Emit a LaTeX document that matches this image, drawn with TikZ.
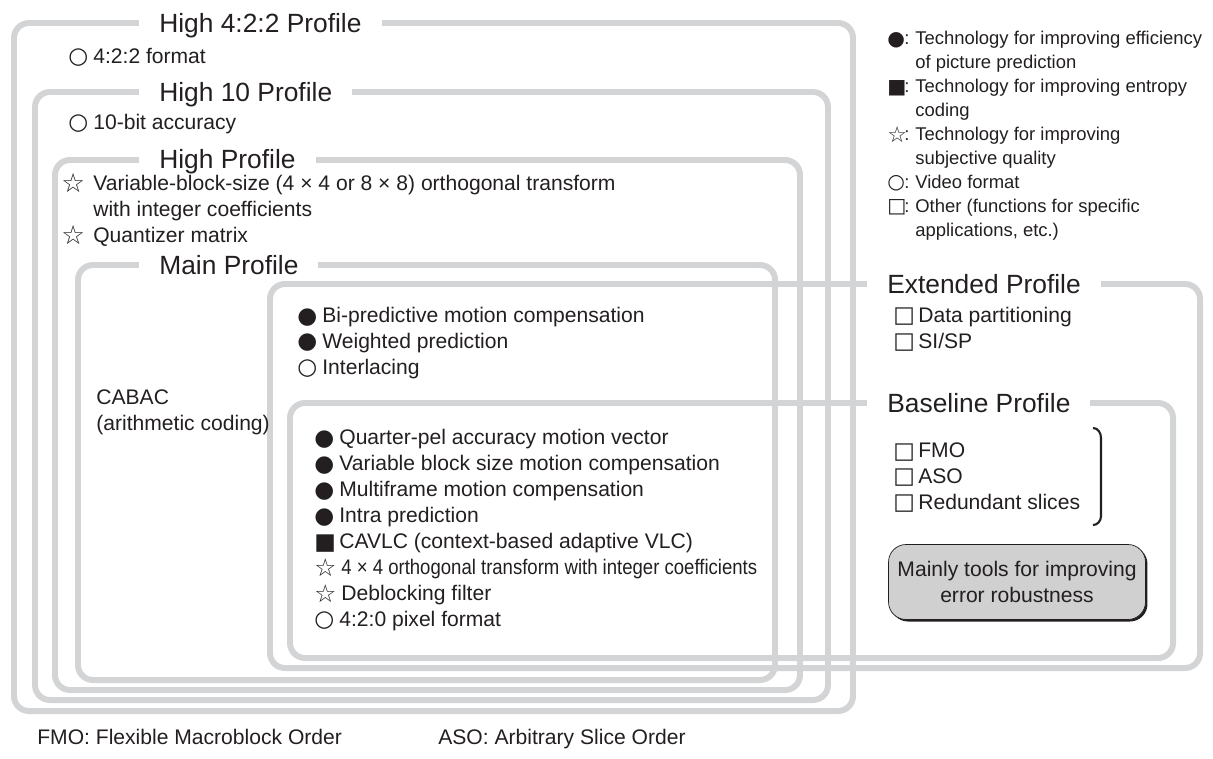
\documentclass[tikz,border=0pt]{standalone}
\usepackage{fontspec}
\setmainfont{Liberation Sans}
\newfontfamily\symfont{DejaVu Sans}
\newfontfamily\narrowfont[FakeStretch=0.88]{Liberation Sans}
\usetikzlibrary{positioning, shadows}
\definecolor{framegray}{RGB}{211,212,214}
\definecolor{ink}{RGB}{35,31,32}
\definecolor{notefill}{RGB}{208,208,208}
\tikzstyle{profile} = [draw=framegray, line width=3.4pt, rounded corners=0.3cm]
\tikzstyle{title} = [anchor=west, fill=white, inner xsep=0.4cm, inner ysep=2pt, text height=10.7pt, text depth=0pt, font=\fontsize{15}{18}\selectfont]
\tikzstyle{items} = [anchor=base west, inner sep=0pt, align=left, font=\fontsize{12}{14.74}\selectfont]
\tikzstyle{legendtext} = [anchor=base west, inner sep=0pt, align=left, font=\fontsize{10.5}{13.6}\selectfont]
\tikzstyle{note} = [draw=ink, fill=notefill, rounded corners=0.35cm, minimum width=5.14cm, minimum height=1.5cm, align=center, font=\fontsize{12}{14.74}\selectfont, drop shadow={shadow xshift=0.04cm, shadow yshift=-0.04cm, fill=ink, opacity=1}]
\newcommand\itm[2][0.5cm]{\makebox[#1][l]{\raisebox{-0.5pt}{\symfont\fontsize{13}{13}\selectfont #2}}}
\newcommand\lsym[1]{\makebox[0.56cm][l]{\makebox[0.34cm][l]{\raisebox{-0.4pt}{\symfont\fontsize{11.5}{11.5}\selectfont #1}}:}}
\newcommand\wstar[1][14]{\raisebox{-0.8pt}{\fontsize{#1}{#1}\selectfont ☆}}

\begin{document}
\begin{tikzpicture}[x=0.02cm, y=-0.02cm, color=ink]
\useasboundingbox (0,0) rectangle (1213,758);

% Profile frames
\draw [profile] (14,23) rectangle (853,711);
\draw [profile] (35,92) rectangle (828,700);
\draw [profile] (55,160) rectangle (800,690);
\draw [profile] (78,265) rectangle (775,680);
\draw [profile] (270,284) rectangle (1200,668);
\draw [profile] (290,403) rectangle (1173,658);

% Profile titles
\node (t422) [title] at (139,23) {High 4:2:2 Profile};
\node (t10) [title] at (139,92) {High 10 Profile};
\node (thigh) [title] at (139,159) {High Profile};
\node (tmain) [title] at (139,265) {Main Profile};
\node (text) [title] at (867,284) {Extended Profile};
\node (tbase) [title] at (867,403) {Baseline Profile};

% Tools of each profile (anchored on the last line)
\node (f422) [items] at (68,63) {\itm{○}4:2:2 format};
\node (f10) [items] at (68,129) {\itm{○}10-bit accuracy};
\node (fhigh) [items] at (61,242) {\itm[0.64cm]{\wstar[15]}Variable-block-size (4 × 4 or 8 × 8) orthogonal transform\\\hspace*{0.64cm}with integer coefficients\\\itm[0.64cm]{\wstar[15]}Quantizer matrix};
\node (cabac) [items] at (96,430) {CABAC\\(arithmetic coding)};
\node (fmain) [items] at (297,374) {\itm{●}Bi-predictive motion compensation\\\itm{●}Weighted prediction\\\itm{○}Interlacing};
\node (fcore) [items] at (314,626) {\itm{●}Quarter-pel accuracy motion vector\\\itm{●}Variable block size motion compensation\\\itm{●}Multiframe motion compensation\\\itm{●}Intra prediction\\\itm{■}CAVLC (context-based adaptive VLC)\\\itm[0.54cm]{\wstar}{\narrowfont 4 × 4 orthogonal transform with integer coefficients}\\\itm[0.54cm]{\wstar}Deblocking filter\\\itm{○}4:2:0 pixel format};
\node (fext) [items] at (893,348) {\itm{□}Data partitioning\\\itm{□}SI/SP};
\node (fbase) [items] at (893,509) {\itm{□}FMO\\\itm{□}ASO\\\itm{□}Redundant slices};

% Bracket and note
\draw [line width=1.2pt] (1093,428) to[out=0,in=90] (1101,438) -- (1101,516) to[out=-90,in=0] (1093,525);
\node (robust) [note] at (1017,582) {Mainly tools for improving\\error robustness};

% Legend
\node (legend) [legendtext] at (887,236) {\lsym{●}Technology for improving efficiency\\\hspace*{0.56cm}of picture prediction\\\lsym{■}Technology for improving entropy\\\hspace*{0.56cm}coding\\\lsym{\wstar[12.5]}Technology for improving\\\hspace*{0.56cm}subjective quality\\\lsym{○}Video format\\\lsym{□}Other (functions for specific\\\hspace*{0.56cm}applications, etc.)};

% Abbreviations
\node (fmonote) [items] at (37,744) {FMO: Flexible Macroblock Order};
\node (asonote) [items] at (438,744) {ASO: Arbitrary Slice Order};

\end{tikzpicture}
\end{document}
